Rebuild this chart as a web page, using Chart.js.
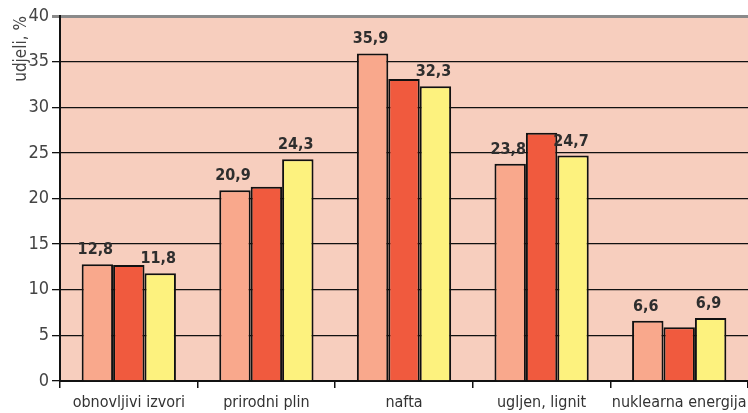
<!DOCTYPE html>
<html><head><meta charset="utf-8">
<script src="https://cdn.jsdelivr.net/npm/chart.js@4"></script>
<style>html,body{margin:0;padding:0;background:#fff;}#wrap{width:748px;height:413px;}</style>
</head><body><div id="wrap"><canvas id="c" width="748" height="413"></canvas></div>
<script>
const categories = ["obnovljivi izvori", "prirodni plin", "nafta", "ugljen, lignit", "nuklearna energija"];
const series1 = [12.8, 20.9, 35.9, 23.8, 6.6];
const series2 = [12.7, 21.3, 33.1, 27.2, 5.9];
const series3 = [11.8, 24.3, 32.3, 24.7, 6.9];
const labeled = [true, false, true];
const yTicks = [0, 5, 10, 15, 20, 25, 30, 35, 40];

const FONT = "'DejaVu Sans Condensed', 'Liberation Sans Narrow', sans-serif";

const bgPlugin = {
  id: 'bg',
  beforeDraw(chart) {
    const {ctx, chartArea: a} = chart;
    ctx.save(); ctx.fillStyle = '#F7CEBE';
    ctx.fillRect(a.left, a.top, a.right - a.left, a.bottom - a.top);
    ctx.restore();
  }
};
const labelPlugin = {
  id: 'vals',
  afterDatasetsDraw(chart) {
    const ctx = chart.ctx;
    ctx.save();
    ctx.font = "bold 16px " + FONT;
    ctx.fillStyle = '#2e2e2e';
    ctx.textAlign = 'center'; ctx.textBaseline = 'alphabetic';
    chart.data.datasets.forEach((ds, di) => {
      if (!labeled[di]) return;
      chart.getDatasetMeta(di).data.forEach((el, i) => {
        ctx.fillText(String(ds.data[i]).replace('.', ','), el.x - 2, el.y - 10);
      });
    });
    ctx.restore();
  }
};

new Chart(document.getElementById('c'), {
  type: 'bar',
  data: {
    labels: categories,
    datasets: [
      {data: series1, backgroundColor: '#F9A88C'},
      {data: series2, backgroundColor: '#F05A3E'},
      {data: series3, backgroundColor: '#FDF27E'}
    ].map(d => Object.assign(d, {borderColor: '#111', borderWidth: 2, borderSkipped: 'bottom',
      categoryPercentage: 0.685, barPercentage: 1.0}))
  },
  options: {
    responsive: false, animation: false,
    layout: {padding: {top: 16, right: -2, left: 0, bottom: 0}},
    plugins: {legend: {display: false}, tooltip: {enabled: false}},
    scales: {
      x: {
        grid: {display: true, offset: true, drawOnChartArea: false, color: '#111', tickLength: 7, lineWidth: 1.5},
        border: {display: true, color: '#111', width: 2},
        ticks: {color: '#333', font: {family: FONT, size: 16}, padding: 5, maxRotation: 0, autoSkip: false},
        afterFit(s) { s.height = 32; s.paddingRight = 0; s.paddingLeft = 0; }
      },
      y: {
        min: 0, max: 40,
        afterBuildTicks(s) { s.ticks = yTicks.map(v => ({value: v})); },
        grid: {
          color: ctx => ctx.tick && ctx.tick.value === 40 ? '#8a8a8a' : '#111',
          lineWidth: ctx => ctx.tick && ctx.tick.value === 40 ? 3 : 1.3,
          tickLength: 8
        },
        border: {display: true, color: '#111', width: 2},
        ticks: {color: '#444', font: {family: FONT, size: 18}, padding: 3},
        title: {display: true, text: 'udjeli, %', align: 'end', color: '#444', font: {family: FONT, size: 17}, padding: {top: 11, bottom: 0}},
        afterFit(s) { s.width = 60; s.paddingTop = 0; s.paddingBottom = 0; }
      }
    }
  },
  plugins: [bgPlugin, labelPlugin]
});
</script></body></html>
